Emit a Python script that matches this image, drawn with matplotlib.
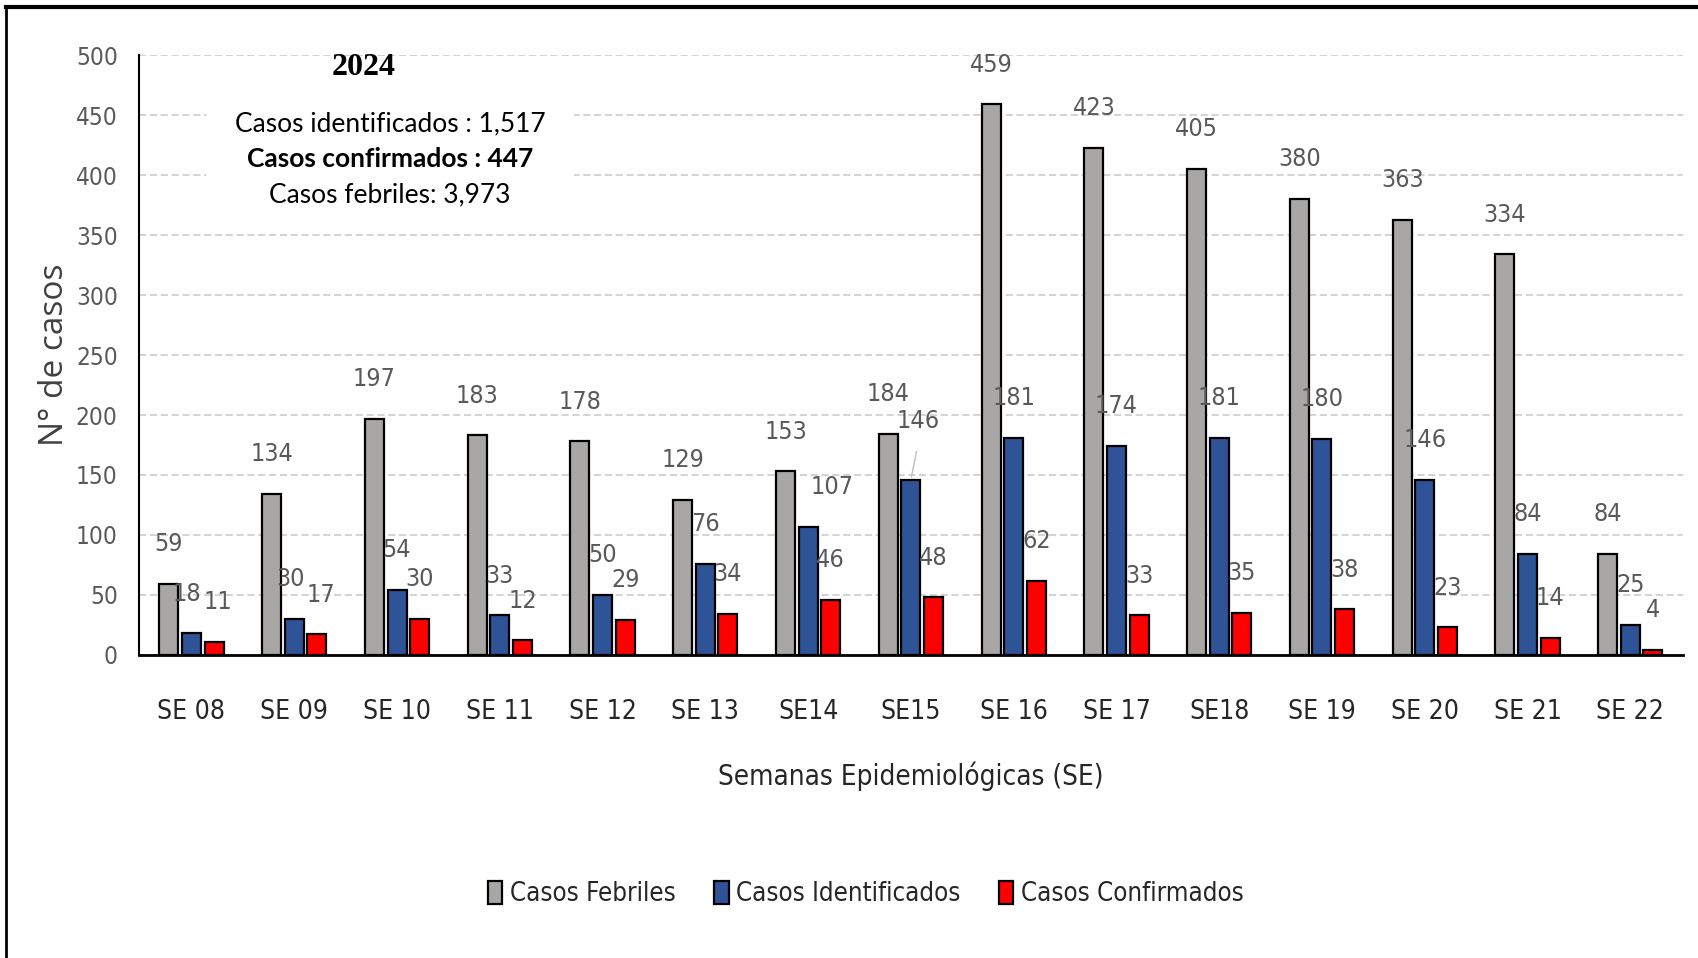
import matplotlib
matplotlib.use('Agg')
import matplotlib.pyplot as plt
from matplotlib import font_manager
from matplotlib.font_manager import FontProperties
from matplotlib.lines import Line2D
from matplotlib.patches import Rectangle
import numpy as np

# data
semanas = ['SE 08', 'SE 09', 'SE 10', 'SE 11', 'SE 12', 'SE 13', 'SE14', 'SE15',
           'SE 16', 'SE 17', 'SE18', 'SE 19', 'SE 20', 'SE 21', 'SE 22']
febriles = [59, 134, 197, 183, 178, 129, 153, 184, 459, 423, 405, 380, 363, 334, 84]
identificados = [18, 30, 54, 33, 50, 76, 107, 146, 181, 174, 181, 180, 146, 84, 25]
confirmados = [11, 17, 30, 12, 29, 34, 46, 48, 62, 33, 35, 38, 23, 14, 4]

series_names = ['Casos Febriles', 'Casos Identificados', 'Casos Confirmados']
series_colors = ['#A8A7A5', '#2E5396', '#FF0000']

resumen_anio = '2024'
resumen = ['Casos identificados : 1,517', 'Casos confirmados : 447', 'Casos febriles: 3,973']


def narrow_font():
    # look for any condensed / narrow face, otherwise the narrowest plain one
    for f in font_manager.fontManager.ttflist:
        if ('Narrow' in f.name or 'Condensed' in f.name or str(f.stretch) in
                ('condensed', 'semi-condensed', 'extra-condensed')) and f.weight in (400, 'normal', 'regular'):
            if 'Bold' not in f.fname and 'Oblique' not in f.fname and 'Italic' not in f.fname:
                return f.fname, True
    return None, False


fname, found = narrow_font()
if found:
    def nfp(size):
        return FontProperties(fname=fname, size=size)
    base = 19
else:
    def nfp(size):
        return FontProperties(family='Roboto', size=size)
    base = 17

fig = plt.figure(figsize=(16.98, 9.58), dpi=100)
ax = fig.add_axes([0.0816, 0.3164, 0.9094, 0.626])

x = np.arange(len(semanas))
off = 0.22
w = 0.185
series = [febriles, identificados, confirmados]
for i, (vals, col) in enumerate(zip(series, series_colors)):
    ax.bar(x + (i - 1) * off, vals, w, color=col, edgecolor='black',
           linewidth=1.6, label=series_names[i], zorder=3)

# label nudges (points) where excel moved a label by hand
nudge = {('SE 08', 1): (-3, 0), ('SE 08', 2): (3, 0),
         ('SE 09', 1): (-3, 0), ('SE 09', 2): (3, 0),
         ('SE14', 1): (17, 0), ('SE15', 1): (5, 14)}

for i, vals in enumerate(series):
    for j, v in enumerate(vals):
        xp = x[j] + (i - 1) * off
        dx, dy = nudge.get((semanas[j], i), (0, 0))
        if semanas[j] == 'SE15' and i == 1:
            ax.annotate('', xy=(xp, v), xytext=(xp + 0.06, v + 26),
                        arrowprops=dict(arrowstyle='-', color='#BFBFBF', lw=1), zorder=4)
        ax.annotate(str(v), (xp, v), xytext=(dx, 20 + dy), textcoords='offset points',
                    fontproperties=nfp(base - 1), color='#595959', ha='center', va='bottom', zorder=6)

ax.set_xlim(-0.515, 14.51)
ax.set_ylim(0, 500)
ax.set_yticks(np.arange(0, 501, 50))
ax.set_xticks(x)
ax.set_xticklabels(semanas)
for t in ax.get_xticklabels():
    t.set_fontproperties(nfp(base))
    t.set_color('#262626')
for t in ax.get_yticklabels():
    t.set_fontproperties(nfp(base - 1.5))
    t.set_color('#595959')
ax.tick_params(axis='both', length=0)
ax.tick_params(axis='x', pad=32)
ax.tick_params(axis='y', pad=15)

ax.grid(axis='y', color='#D0D0D0', linestyle=(0, (4, 2)), linewidth=1.3, zorder=0)
ax.set_axisbelow(True)
for s in ['top', 'right']:
    ax.spines[s].set_visible(False)
ax.spines['left'].set_linewidth(1.5)
ax.spines['bottom'].set_linewidth(2)

ax.set_xlabel('Semanas Epidemiológicas (SE)', fontproperties=nfp(base + 1), color='#262626',
              labelpad=26)
ax.set_ylabel('N° de casos', fontsize=24, color='#404040', family='Open Sans')
ax.yaxis.set_label_coords(-0.044, 0.5)

# summary box (white patch hides the grid behind it)
ax.add_patch(Rectangle((190 / 1568, 1 - 200 / 885), 340 / 1568, 105 / 885,
                       transform=fig.transFigure, facecolor='white', edgecolor='none', zorder=1))
fig.text(336 / 1568, 1 - 62 / 885, resumen_anio, ha='center', va='center',
         fontsize=23, fontweight='bold', family='Liberation Serif')
for k, line in enumerate(resumen):
    fig.text(360 / 1568, 1 - (114 + 33 * k) / 885, line, ha='center', va='center',
             fontsize=19, family='Lato', fontweight='bold' if k == 1 else 'normal')

leg = ax.legend(loc='center', bbox_to_anchor=(0.51, 1 - 826 / 885),
                bbox_transform=fig.transFigure, ncol=3, frameon=False,
                handlelength=0.55, handleheight=1.0, handletextpad=0.3,
                columnspacing=1.5, prop=nfp(base - 0.5))
for t in leg.get_texts():
    t.set_color('#262626')

# outer frame
fig.add_artist(Line2D([0.0035, 0.0035], [0, 0.993], transform=fig.transFigure,
                      color='black', lw=2))
fig.add_artist(Line2D([0.0035, 1], [0.993, 0.993], transform=fig.transFigure,
                      color='black', lw=3))

plt.savefig('out.png', dpi=100)
